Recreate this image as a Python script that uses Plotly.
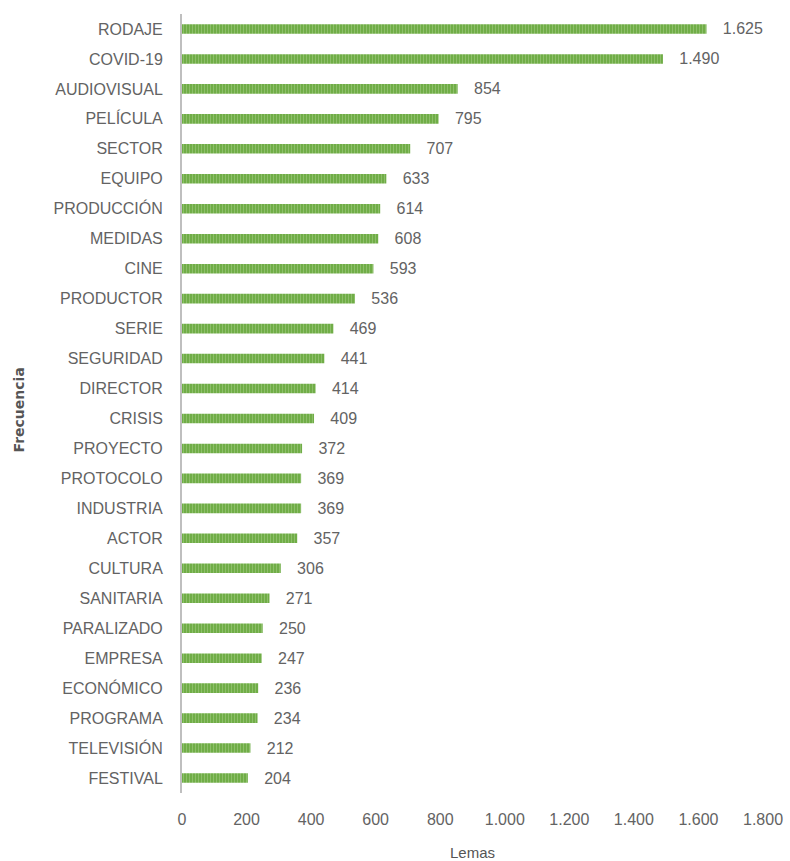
import plotly.graph_objects as go

# Lemma frequencies (top 26 lemmas)
lemas = [
    "RODAJE", "COVID-19", "AUDIOVISUAL", "PELÍCULA", "SECTOR", "EQUIPO",
    "PRODUCCIÓN", "MEDIDAS", "CINE", "PRODUCTOR", "SERIE", "SEGURIDAD",
    "DIRECTOR", "CRISIS", "PROYECTO", "PROTOCOLO", "INDUSTRIA", "ACTOR",
    "CULTURA", "SANITARIA", "PARALIZADO", "EMPRESA", "ECONÓMICO",
    "PROGRAMA", "TELEVISIÓN", "FESTIVAL",
]
frecuencias = [
    1625, 1490, 854, 795, 707, 633, 614, 608, 593, 536, 469, 441,
    414, 409, 372, 369, 369, 357, 306, 271, 250, 247, 236, 234, 212, 204,
]
x_ticks = [0, 200, 400, 600, 800, 1000, 1200, 1400, 1600, 1800]

GREY = "#636363"
FONT = "Liberation Sans"

fig = go.Figure(
    go.Bar(
        x=frecuencias,
        y=lemas,
        orientation="h",
        marker=dict(
            color="#70AD47",
            line=dict(width=0),
            pattern=dict(shape="|", fgcolor="#A9D18E", bgcolor="#70AD47",
                         size=3, solidity=0.35),
        ),
        text=frecuencias,
        texttemplate="   %{x:,}",
        textposition="outside",
        constraintext="none",
        cliponaxis=False,
        textfont=dict(family=FONT, size=16, color=GREY),
    )
)

fig.update_layout(
    width=790,
    height=861,
    margin=dict(l=182, r=27, t=14, b=68),
    paper_bgcolor="white",
    plot_bgcolor="white",
    separators=",.",
    bargap=0.68,
    showlegend=False,
    font=dict(family=FONT, size=16, color=GREY),
)

fig.update_xaxes(
    range=[0, 1800],
    tickvals=x_ticks,
    tickformat=",",
    showgrid=False,
    zeroline=False,
    showline=False,
    ticks="",
    automargin=False,
    ticklabelstandoff=15,
    tickfont=dict(family=FONT, size=16, color=GREY),
    title=dict(text="Lemas", font=dict(family=FONT, size=15, color="#555555"), standoff=20),
)

fig.update_yaxes(
    categoryorder="array",
    categoryarray=lemas[::-1],
    showgrid=False,
    zeroline=False,
    showline=True,
    linecolor="#BFBFBF",
    linewidth=2,
    ticks="",
    automargin=False,
    ticklabelstandoff=14,
    tickfont=dict(family=FONT, size=16, color=GREY),
)

# Vertical axis title placed at the left edge of the figure
fig.add_annotation(
    text="<b>Frecuencia</b>",
    xref="paper", yref="paper",
    x=0, y=0.5,
    xshift=-164, yshift=-7,
    xanchor="center", yanchor="middle",
    textangle=-90,
    showarrow=False,
    font=dict(family="DejaVu Sans", size=14, color="#555555"),
)

fig.write_html("out.html")
